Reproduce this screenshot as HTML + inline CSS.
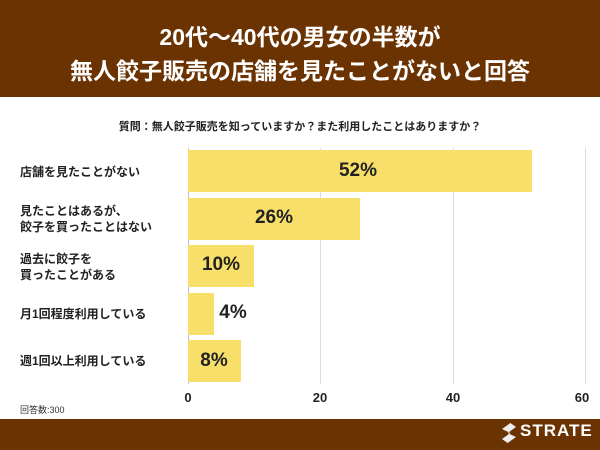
<!DOCTYPE html>
<html><head><meta charset="utf-8"><style>
body{margin:0;width:600px;height:450px;overflow:hidden;background:#fff;font-family:"Liberation Sans","Noto Sans CJK JP",sans-serif;position:relative}
.hdr{position:absolute;left:0;top:0;width:600px;height:97px;background:#6b3302;color:#fff;text-align:center;font-weight:bold;font-size:23px;line-height:34px;padding-top:20px;box-sizing:border-box}
.ftr{position:absolute;left:0;top:419px;width:600px;height:31px;background:#6b3302}
.q{position:absolute;top:118px;width:600px;text-align:center;font-size:11px;font-weight:bold;color:#222}
.grid{position:absolute;top:148px;height:236px;width:1px;background:#ddd}
.bar{position:absolute;left:188px;height:42px;background:#f7df6a}
.val{position:absolute;font-size:19px;font-weight:bold;color:#222;transform:translateX(-50%)}
.lab{position:absolute;left:20px;font-size:12px;font-weight:bold;color:#222;line-height:16px}
.tk{position:absolute;top:390px;font-size:13px;font-weight:bold;color:#222;transform:translateX(-50%)}
</style></head><body>
<div class="hdr">20代〜40代の男女の半数が<br>無人餃子販売の店舗を見たことがないと回答</div>
<div class="q">質問：無人餃子販売を知っていますか？また利用したことはありますか？</div>
<div class="grid" style="left:320px"></div>
<div class="grid" style="left:453px"></div>
<div class="grid" style="left:585px"></div>
<div class="grid" style="left:188px;background:#bbb"></div>
<div class="bar" style="top:150px;width:344px"></div>
<div class="bar" style="top:198px;width:172px"></div>
<div class="bar" style="top:245px;width:66px"></div>
<div class="bar" style="top:293px;width:26px"></div>
<div class="bar" style="top:340px;width:53px"></div>
<div class="val" style="left:358px;top:160px">52%</div>
<div class="val" style="left:274px;top:207px">26%</div>
<div class="val" style="left:221px;top:254px">10%</div>
<div class="val" style="left:233px;top:302px">4%</div>
<div class="val" style="left:214px;top:350px">8%</div>
<div class="lab" style="top:164px">店舗を見たことがない</div>
<div class="lab" style="top:203px">見たことはあるが、<br>餃子を買ったことはない</div>
<div class="lab" style="top:251px">過去に餃子を<br>買ったことがある</div>
<div class="lab" style="top:306px">月1回程度利用している</div>
<div class="lab" style="top:353px">週1回以上利用している</div>
<div class="tk" style="left:188px">0</div>
<div class="tk" style="left:320px">20</div>
<div class="tk" style="left:453px">40</div>
<div class="tk" style="left:582px">60</div>
<div style="position:absolute;left:20px;top:403px;font-size:9px;color:#333">回答数:300</div>
<div class="ftr"></div>
<div style="position:absolute;left:502px;top:423px;width:14px;height:20px;background:#eee;clip-path:polygon(0 30%,60% 0,100% 20%,40% 50%,100% 70%,40% 100%,0 80%,60% 50%)"></div>
<div style="position:absolute;left:520px;top:421px;color:#fff;font-weight:bold;font-size:17px;letter-spacing:1px">STRATE</div>
</body></html>
